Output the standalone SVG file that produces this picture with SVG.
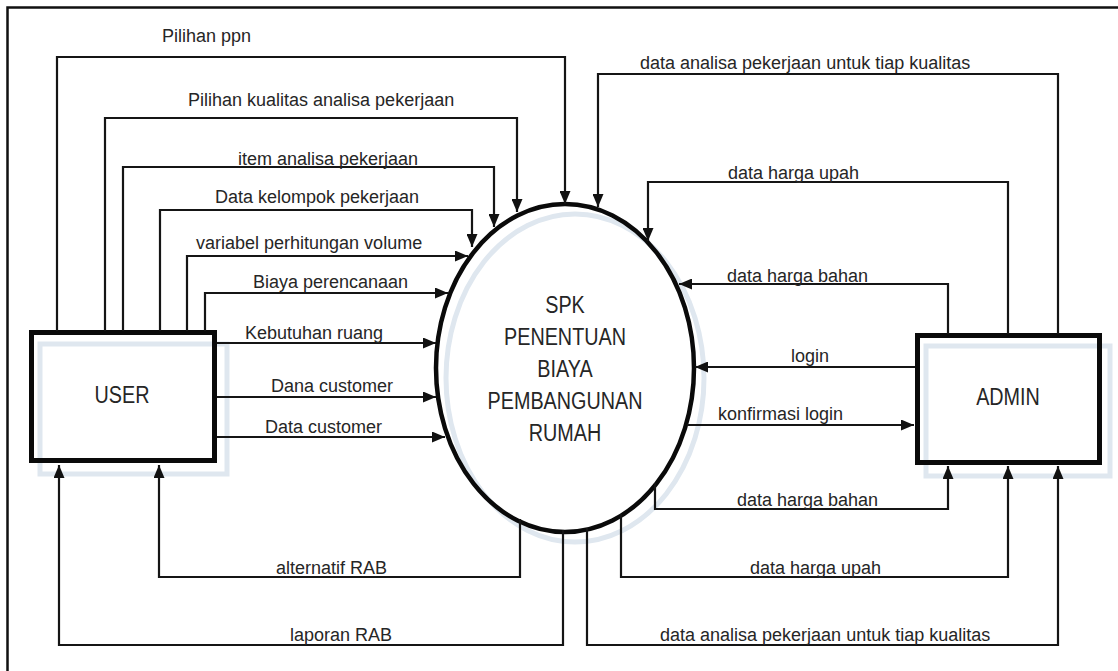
<svg xmlns="http://www.w3.org/2000/svg" width="1118" height="671" viewBox="0 0 1118 671">
<style>
.bg{fill:#ffffff}
.frame{fill:none;stroke:#111;stroke-width:2.5}
.shadow{fill:none;stroke:#dfe7ef;stroke-width:5}
.box{fill:none;stroke:#0a0a0a;stroke-width:5}
.proc{fill:none;stroke:#0a0a0a;stroke-width:4.5}
.flow{fill:none;stroke:#151515;stroke-width:2.2;marker-end:url(#arr)}
.lbl{font-family:"Liberation Sans",Arial,sans-serif;font-size:18px;fill:#262626}
.node{font-family:"Liberation Sans",Arial,sans-serif;font-size:23px;fill:#262626;text-anchor:middle}
</style>
<defs>
<marker id="arr" markerUnits="userSpaceOnUse" markerWidth="13" markerHeight="11" refX="13" refY="5.5" orient="auto">
<path d="M0,0 L13,5.5 L0,11 z" fill="#111"/>
</marker>
</defs>
<rect class="bg" x="0" y="0" width="1118" height="671"/>
<path class="frame" d="M7.5,671 V7.5 H1118"/>

<g id="node-process">
<ellipse class="shadow" cx="575" cy="378" rx="129" ry="164"/>
<ellipse class="proc" cx="565" cy="368" rx="129" ry="164" fill="none"/>
<g transform="translate(565 0) scale(0.86 1)">
<text class="node" x="0" y="313">SPK</text>
<text class="node" x="0" y="345">PENENTUAN</text>
<text class="node" x="0" y="377">BIAYA</text>
<text class="node" x="0" y="409">PEMBANGUNAN</text>
<text class="node" x="0" y="441">RUMAH</text>
</g>
</g>

<g id="node-user">
<rect class="shadow" x="40" y="344" width="187" height="130"/>
<rect class="box" x="31.5" y="332.5" width="183" height="128"/>
<text class="node" transform="translate(122 403) scale(0.86 1)">USER</text>
</g>

<g id="node-admin">
<rect class="shadow" x="926" y="346" width="184" height="130"/>
<rect class="box" x="917.5" y="335.5" width="182" height="127"/>
<text class="node" transform="translate(1008 405) scale(0.86 1)">ADMIN</text>
</g>

<g id="connectors">
<path class="flow" d="M57,331 V57 H565 V204"/>
<text class="lbl" x="162" y="42">Pilihan ppn</text>

<path class="flow" d="M105,331 V118 H517 V212"/>
<text class="lbl" x="188" y="106">Pilihan kualitas analisa pekerjaan</text>

<path class="flow" d="M123,331 V167 H494 V227"/>
<text class="lbl" x="238" y="165">item analisa pekerjaan</text>

<path class="flow" d="M160,331 V210 H472 V247"/>
<text class="lbl" x="215" y="203">Data kelompok pekerjaan</text>

<path class="flow" d="M187,331 V256 H468"/>
<text class="lbl" x="196" y="249">variabel perhitungan volume</text>

<path class="flow" d="M205,331 V293 H448"/>
<text class="lbl" x="253" y="288">Biaya perencanaan</text>

<path class="flow" d="M217,343 H436"/>
<text class="lbl" x="245" y="339">Kebutuhan ruang</text>

<path class="flow" d="M217,397 H436"/>
<text class="lbl" x="271" y="392">Dana customer</text>

<path class="flow" d="M217,437 H445"/>
<text class="lbl" x="265" y="433">Data customer</text>

<path class="flow" d="M520,519 V577 H159 V465"/>
<text class="lbl" x="276" y="574">alternatif RAB</text>

<path class="flow" d="M563,530 V645 H59 V465"/>
<text class="lbl" x="290" y="641">laporan RAB</text>

<path class="flow" d="M1058,334 V74 H598 V207"/>
<text class="lbl" x="640" y="69">data analisa pekerjaan untuk tiap kualitas</text>

<path class="flow" d="M1008,334 V182 H648 V241"/>
<text class="lbl" x="728" y="179">data harga upah</text>

<path class="flow" d="M948,334 V284 H679"/>
<text class="lbl" x="727" y="282">data harga bahan</text>

<path class="flow" d="M915,367 H695"/>
<text class="lbl" x="791" y="362">login</text>

<path class="flow" d="M687,425 H914"/>
<text class="lbl" x="718" y="420">konfirmasi login</text>

<path class="flow" d="M655,483 V509 H948 V466"/>
<text class="lbl" x="737" y="506">data harga bahan</text>

<path class="flow" d="M621,514 V577 H1008 V466"/>
<text class="lbl" x="750" y="574">data harga upah</text>

<path class="flow" d="M587,528 V645 H1058 V466"/>
<text class="lbl" x="660" y="641">data analisa pekerjaan untuk tiap kualitas</text>
</g>
</svg>
